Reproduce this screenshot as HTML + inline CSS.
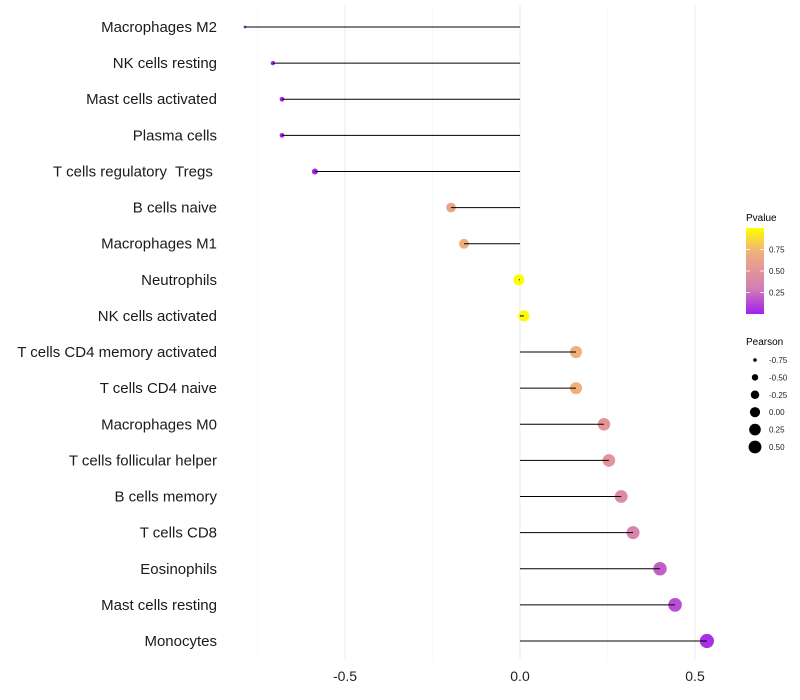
<!DOCTYPE html>
<html><head><meta charset="utf-8"><style>
body{margin:0;background:#fff;}
svg{display:block;font-family:"Liberation Sans",sans-serif;}
</style></head><body>
<svg id="chart" width="800" height="700">
<defs><linearGradient id="pg" x1="0" y1="1" x2="0" y2="0">
<stop offset="0" stop-color="#a020f0"/><stop offset="0.3" stop-color="#d27fb5"/><stop offset="0.5" stop-color="#e39399"/><stop offset="0.72" stop-color="#efb07c"/><stop offset="1" stop-color="#ffff00"/></linearGradient></defs>
<g id="grid"></g><g id="marks"></g><g id="labels"></g>
<g>
<text x="746" y="221" font-size="10">Pvalue</text>
<rect x="746" y="228" width="18" height="86" fill="url(#pg)"/>
<g id="cbticks"></g>
</g>
<g id="sizeleg">
<text x="746" y="345" font-size="10">Pearson</text>
</g>
</svg>
<script>
const categories=["Macrophages M2","NK cells resting","Mast cells activated","Plasma cells","T cells regulatory  Tregs ","B cells naive","Macrophages M1","Neutrophils","NK cells activated","T cells CD4 memory activated","T cells CD4 naive","Macrophages M0","T cells follicular helper","B cells memory","T cells CD8","Eosinophils","Mast cells resting","Monocytes"];
const pearson=[-0.786,-0.706,-0.68,-0.68,-0.586,-0.197,-0.16,-0.003,0.011,0.16,0.16,0.24,0.254,0.289,0.323,0.4,0.443,0.534];
const pvalue=[0.0001,0.001,0.002,0.002,0.01,0.62,0.71,0.99,0.98,0.72,0.72,0.52,0.5,0.43,0.36,0.2,0.15,0.05];
const xTicks=[-0.5,0,0.5];
const xTickLabels=["-0.5","0.0","0.5"];
const cbTicks=[0.25,0.5,0.75];
const sizeLegend=[-0.75,-0.5,-0.25,0,0.25,0.5];
const NS="http://www.w3.org/2000/svg";
const x=v=>520+v*350;
const y=i=>27+i*(614/17);
const pminv=Math.min(...pearson),pmaxv=Math.max(...pearson);
const r=v=>Math.sqrt(1.8+(v-pminv)/(pmaxv-pminv)*(50-1.8));
function lerp(a,b,t){return a.map((c,i)=>Math.round(c+(b[i]-c)*t));}
const stops=[[0,[160,32,240]],[0.3,[210,127,181]],[0.5,[227,147,153]],[0.72,[239,176,124]],[1,[255,255,0]]];
function col(p){for(let k=1;k<stops.length;k++){if(p<=stops[k][0]){const t=(p-stops[k-1][0])/(stops[k][0]-stops[k-1][0]);return "rgb("+lerp(stops[k-1][1],stops[k][1],t).join(",")+")";}}return "rgb(255,255,0)";}
function mk(tag,attrs,parent){const e=document.createElementNS(NS,tag);for(const k in attrs)e.setAttribute(k,attrs[k]);parent.appendChild(e);return e;}
const grid=document.getElementById('grid'),marks=document.getElementById('marks'),labels=document.getElementById('labels');
[-0.75,-0.5,-0.25,0,0.25,0.5].forEach(v=>{const l=mk('line',{x1:x(v),x2:x(v),y1:5,y2:660,stroke:v%0.5===0?'#ebebeb':'#f4f4f4','stroke-width':v%0.5===0?1:0.6},grid);

});
xTicks.forEach((v,i)=>{const t=mk('text',{x:x(v),y:681,'font-size':14,'text-anchor':'middle',fill:'#222'},labels);t.textContent=xTickLabels[i];

});
categories.forEach((c,i)=>{
const t=mk('text',{x:217,y:y(i)+5,'font-size':15,'text-anchor':'end',fill:'#1a1a1a','xml:space':'preserve',style:'white-space:pre'},labels);t.textContent=c;


const d=mk('circle',{cx:x(pearson[i]),cy:y(i),r:r(pearson[i]),fill:col(pvalue[i])},marks);


const s=mk('line',{x1:x(0),x2:x(pearson[i]),y1:y(i),y2:y(i),stroke:'#000','stroke-width':1},marks);


});
const cb=document.getElementById('cbticks');
cbTicks.forEach(v=>{const yy=314-v*86;
mk('line',{x1:746,x2:750,y1:yy,y2:yy,stroke:'#fff','stroke-width':0.8},cb);mk('line',{x1:760,x2:764,y1:yy,y2:yy,stroke:'#fff','stroke-width':0.8},cb);
const t=mk('text',{x:769,y:yy+3,'font-size':8,fill:'#222'},cb);t.textContent=v.toFixed(2);

});
const sl=document.getElementById('sizeleg');
sizeLegend.forEach((v,i)=>{const yy=360+i*17.4;
const c=mk('circle',{cx:755,cy:yy,r:Math.max(1.8,r(v)*0.92),fill:'#000'},sl);


const t=mk('text',{x:769,y:yy+3,'font-size':8,fill:'#222'},sl);t.textContent=v.toFixed(2);

});
</script>
</body></html>
